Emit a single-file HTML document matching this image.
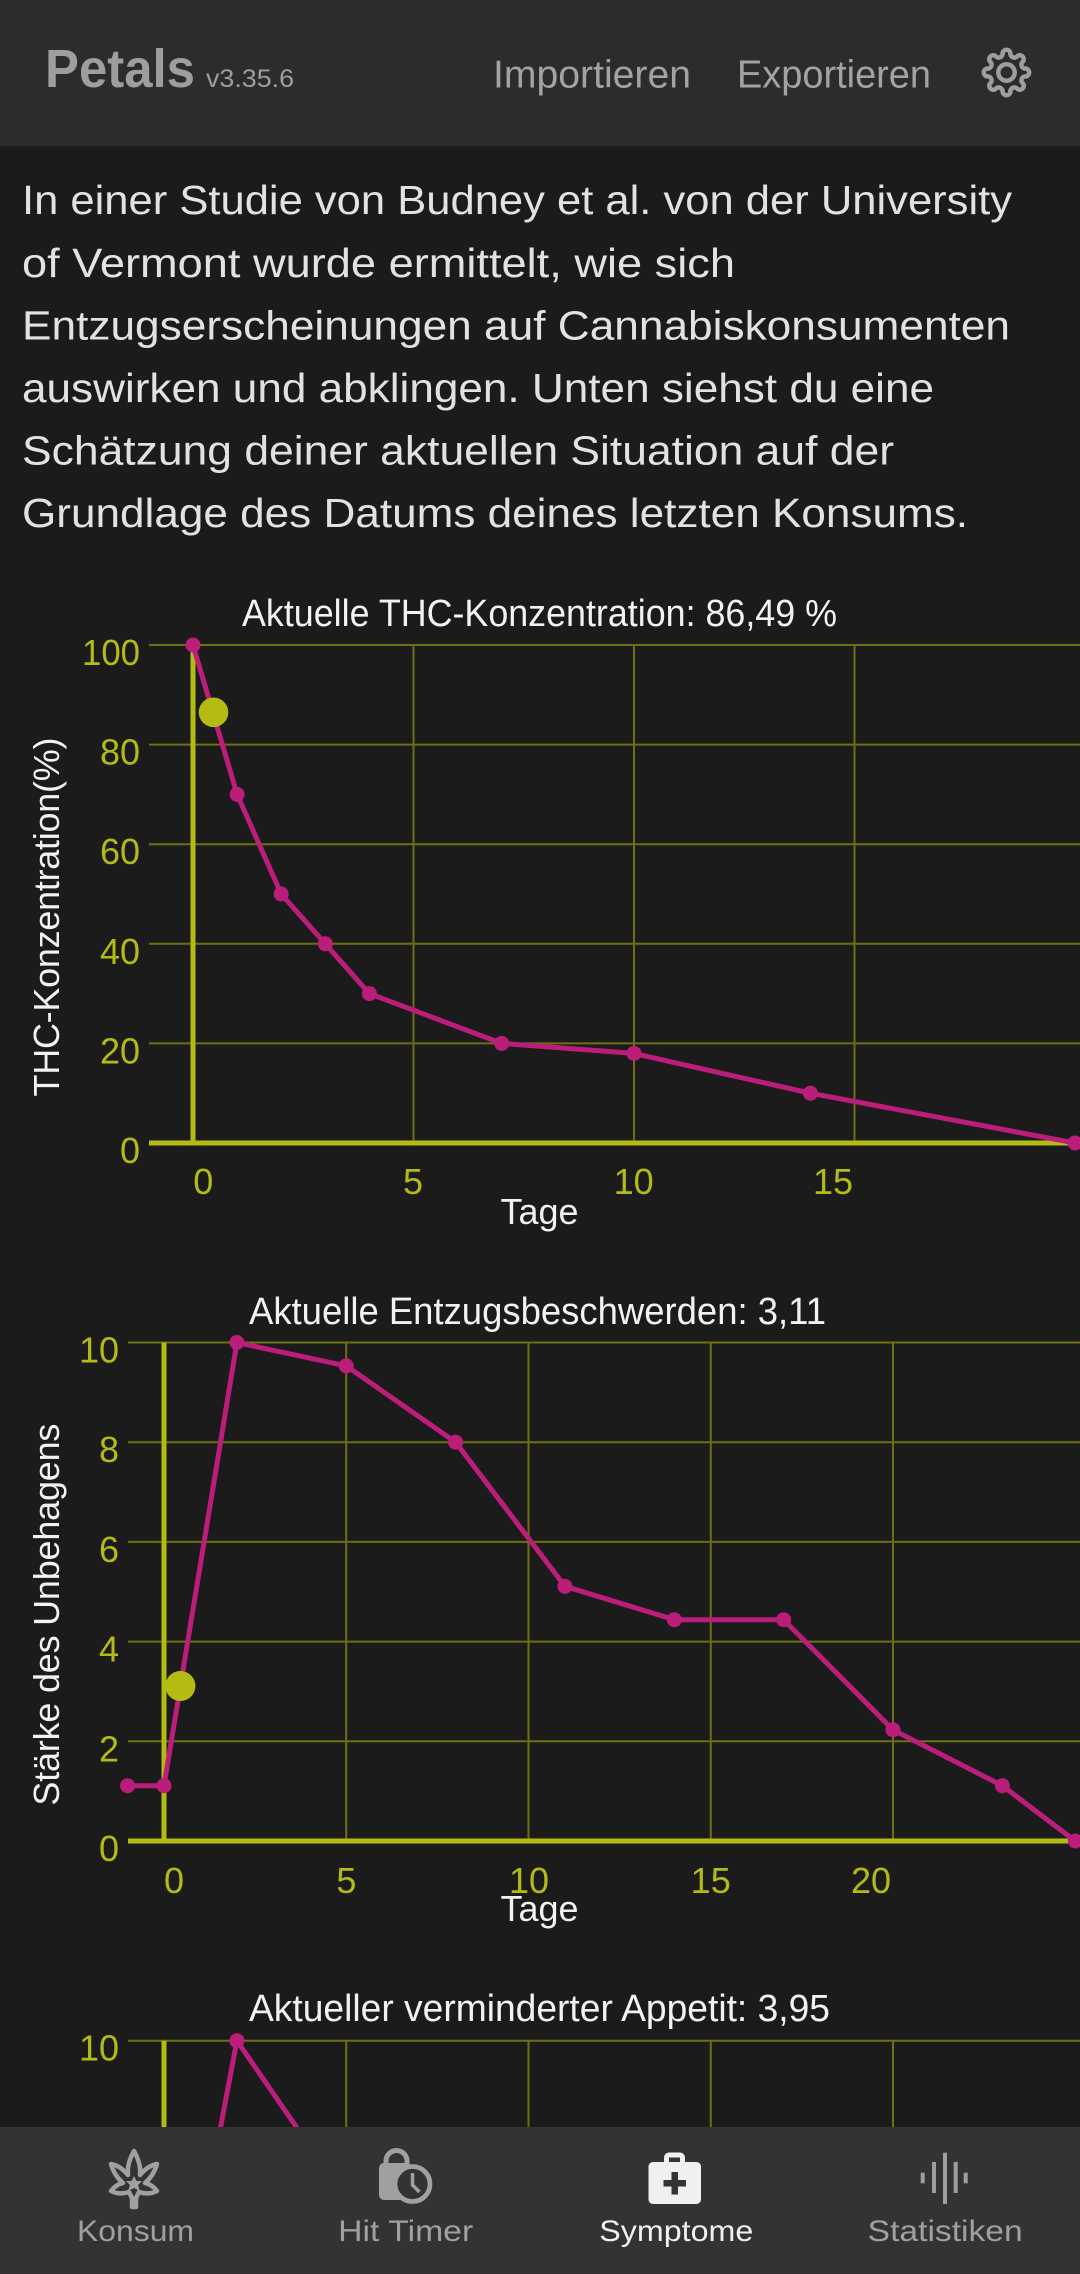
<!DOCTYPE html>
<html>
<head>
<meta charset="utf-8">
<style>
  html,body{margin:0;padding:0;background:#1b1b1b;width:1080px;height:2274px;overflow:hidden;}
  svg{display:block;}
  text{font-family:"Liberation Sans",Arial,sans-serif;}
</style>
</head>
<body>
<svg width="1080" height="2274" viewBox="0 0 1080 2274" xmlns="http://www.w3.org/2000/svg">
  <rect x="0" y="0" width="1080" height="2274" fill="#1b1b1b"/>

  <!-- Header -->
  <rect x="0" y="0" width="1080" height="146" fill="#2c2c2c"/>
  <text x="45" y="87" font-size="54" font-weight="bold" fill="#9e9e9e" textLength="150" lengthAdjust="spacingAndGlyphs">Petals</text>
  <text x="206" y="87" font-size="25" fill="#9e9e9e" textLength="88" lengthAdjust="spacingAndGlyphs">v3.35.6</text>
  <text x="493" y="87.5" font-size="39" fill="#a3a3a3" textLength="198" lengthAdjust="spacingAndGlyphs">Importieren</text>
  <text x="737" y="87.5" font-size="39" fill="#a3a3a3" textLength="194" lengthAdjust="spacingAndGlyphs">Exportieren</text>
  <!-- gear -->
  <g transform="translate(1006.5,72.5)" fill="none" stroke="#9e9e9e" stroke-width="4.5" stroke-linejoin="round">
    <path d="M19.62,-3.90 A4,4 0 0 1 19.62,3.90 A4,4 0 0 0 16.63,11.11 A4,4 0 0 1 11.11,16.63 A4,4 0 0 0 3.90,19.62 A4,4 0 0 1 -3.90,19.62 A4,4 0 0 0 -11.11,16.63 A4,4 0 0 1 -16.63,11.11 A4,4 0 0 0 -19.62,3.90 A4,4 0 0 1 -19.62,-3.90 A4,4 0 0 0 -16.63,-11.11 A4,4 0 0 1 -11.11,-16.63 A4,4 0 0 0 -3.90,-19.62 A4,4 0 0 1 3.90,-19.62 A4,4 0 0 0 11.11,-16.63 A4,4 0 0 1 16.63,-11.11 A4,4 0 0 0 19.62,-3.90 Z"/>
    <circle cx="0" cy="0" r="8.2"/>
  </g>

  <!-- Paragraph -->
  <g font-size="41" fill="#e2e2e2">
    <text x="22" y="214" textLength="990" lengthAdjust="spacingAndGlyphs">In einer Studie von Budney et al. von der University</text>
    <text x="22" y="277" textLength="713" lengthAdjust="spacingAndGlyphs">of Vermont wurde ermittelt, wie sich</text>
    <text x="22" y="339.5" textLength="988" lengthAdjust="spacingAndGlyphs">Entzugserscheinungen auf Cannabiskonsumenten</text>
    <text x="22" y="402" textLength="912" lengthAdjust="spacingAndGlyphs">auswirken und abklingen. Unten siehst du eine</text>
    <text x="22" y="464.5" textLength="872" lengthAdjust="spacingAndGlyphs">Schätzung deiner aktuellen Situation auf der</text>
    <text x="22" y="527" textLength="946" lengthAdjust="spacingAndGlyphs">Grundlage des Datums deines letzten Konsums.</text>
  </g>

  <!-- ===== Chart 1 ===== -->
  <text x="539.5" y="626" font-size="38" fill="#f2f2f2" text-anchor="middle" textLength="595" lengthAdjust="spacingAndGlyphs">Aktuelle THC-Konzentration: 86,49 %</text>
  <g stroke="#6e6f13" stroke-width="2">
    <line x1="149" y1="645" x2="1080" y2="645"/>
    <line x1="149" y1="744.6" x2="1080" y2="744.6"/>
    <line x1="149" y1="844.2" x2="1080" y2="844.2"/>
    <line x1="149" y1="943.8" x2="1080" y2="943.8"/>
    <line x1="149" y1="1043.4" x2="1080" y2="1043.4"/>
    <line x1="413.5" y1="645" x2="413.5" y2="1143"/>
    <line x1="634" y1="645" x2="634" y2="1143"/>
    <line x1="854.5" y1="645" x2="854.5" y2="1143"/>
  </g>
  <line x1="149" y1="1143" x2="1080" y2="1143" stroke="#b4bc14" stroke-width="5"/>
  <line x1="193" y1="645" x2="193" y2="1143" stroke="#b4bc14" stroke-width="5"/>
  <g font-size="36" fill="#b4bc14" text-anchor="end">
    <text x="140" y="665" textLength="58" lengthAdjust="spacingAndGlyphs">100</text>
    <text x="140" y="764.6">80</text>
    <text x="140" y="864.2">60</text>
    <text x="140" y="963.8">40</text>
    <text x="140" y="1063.4">20</text>
    <text x="140" y="1163">0</text>
  </g>
  <g font-size="36" fill="#b4bc14" text-anchor="middle">
    <text x="203.3" y="1194">0</text>
    <text x="413" y="1194">5</text>
    <text x="633.6" y="1194">10</text>
    <text x="833" y="1194">15</text>
  </g>
  <text x="539.5" y="1224" font-size="36" fill="#f2f2f2" text-anchor="middle" textLength="78" lengthAdjust="spacingAndGlyphs">Tage</text>
  <text x="59" y="917" font-size="36" fill="#f2f2f2" text-anchor="middle" textLength="359" transform="rotate(-90 59 917)">THC-Konzentration(%)</text>
  <polyline fill="none" stroke="#bb1e7a" stroke-width="5" stroke-linejoin="round" points="193,645 237.1,794.4 281.2,894 325.3,943.8 369.4,993.6 501.7,1043.4 634,1053.4 810.4,1093.2 1075,1143"/>
  <g fill="#bb1e7a">
    <circle cx="193" cy="645" r="7.5"/>
    <circle cx="237.1" cy="794.4" r="7.5"/>
    <circle cx="281.2" cy="894" r="7.5"/>
    <circle cx="325.3" cy="943.8" r="7.5"/>
    <circle cx="369.4" cy="993.6" r="7.5"/>
    <circle cx="501.7" cy="1043.4" r="7.5"/>
    <circle cx="634" cy="1053.4" r="7.5"/>
    <circle cx="810.4" cy="1093.2" r="7.5"/>
    <circle cx="1075" cy="1143" r="7.5"/>
  </g>
  <circle cx="213.5" cy="712.3" r="14.8" fill="#b4bc14"/>

  <!-- ===== Chart 2 ===== -->
  <text x="537.5" y="1324" font-size="38" fill="#f2f2f2" text-anchor="middle" textLength="577" lengthAdjust="spacingAndGlyphs">Aktuelle Entzugsbeschwerden: 3,11</text>
  <g stroke="#6e6f13" stroke-width="2">
    <line x1="128" y1="1342.5" x2="1080" y2="1342.5"/>
    <line x1="128" y1="1442.2" x2="1080" y2="1442.2"/>
    <line x1="128" y1="1541.9" x2="1080" y2="1541.9"/>
    <line x1="128" y1="1641.6" x2="1080" y2="1641.6"/>
    <line x1="128" y1="1741.3" x2="1080" y2="1741.3"/>
    <line x1="346.25" y1="1342.5" x2="346.25" y2="1841"/>
    <line x1="528.5" y1="1342.5" x2="528.5" y2="1841"/>
    <line x1="710.75" y1="1342.5" x2="710.75" y2="1841"/>
    <line x1="893" y1="1342.5" x2="893" y2="1841"/>
  </g>
  <line x1="128" y1="1841" x2="1080" y2="1841" stroke="#b4bc14" stroke-width="5"/>
  <line x1="164" y1="1342.5" x2="164" y2="1841" stroke="#b4bc14" stroke-width="5"/>
  <g font-size="36" fill="#b4bc14" text-anchor="end">
    <text x="119" y="1362.5">10</text>
    <text x="119" y="1462.2">8</text>
    <text x="119" y="1561.9">6</text>
    <text x="119" y="1661.6">4</text>
    <text x="119" y="1761.3">2</text>
    <text x="119" y="1861">0</text>
  </g>
  <g font-size="36" fill="#b4bc14" text-anchor="middle">
    <text x="174" y="1893">0</text>
    <text x="346.4" y="1893">5</text>
    <text x="529" y="1893">10</text>
    <text x="710.7" y="1893">15</text>
    <text x="871" y="1893">20</text>
  </g>
  <text x="539.5" y="1921" font-size="36" fill="#f2f2f2" text-anchor="middle" textLength="78" lengthAdjust="spacingAndGlyphs">Tage</text>
  <text x="59" y="1614.6" font-size="36" fill="#f2f2f2" text-anchor="middle" textLength="382" transform="rotate(-90 59 1614.6)">Stärke des Unbehagens</text>
  <polyline fill="none" stroke="#bb1e7a" stroke-width="5" stroke-linejoin="round" points="127.55,1785.7 164,1785.7 236.9,1342.5 346.25,1365.9 455.6,1442.2 564.95,1586.3 674.3,1619.7 783.65,1619.7 893,1729.8 1002.35,1785.7 1075.25,1841"/>
  <g fill="#bb1e7a">
    <circle cx="127.55" cy="1785.7" r="7.5"/>
    <circle cx="164" cy="1785.7" r="7.5"/>
    <circle cx="236.9" cy="1342.5" r="7.5"/>
    <circle cx="346.25" cy="1365.9" r="7.5"/>
    <circle cx="455.6" cy="1442.2" r="7.5"/>
    <circle cx="564.95" cy="1586.3" r="7.5"/>
    <circle cx="674.3" cy="1619.7" r="7.5"/>
    <circle cx="783.65" cy="1619.7" r="7.5"/>
    <circle cx="893" cy="1729.8" r="7.5"/>
    <circle cx="1002.35" cy="1785.7" r="7.5"/>
    <circle cx="1075.25" cy="1841" r="7.5"/>
  </g>
  <circle cx="180.4" cy="1686" r="15" fill="#b4bc14"/>

  <!-- ===== Chart 3 (partially visible) ===== -->
  <text x="539.5" y="2021" font-size="38" fill="#f2f2f2" text-anchor="middle" textLength="581" lengthAdjust="spacingAndGlyphs">Aktueller verminderter Appetit: 3,95</text>
  <g stroke="#6e6f13" stroke-width="2">
    <line x1="128" y1="2040.7" x2="1080" y2="2040.7"/>
    <line x1="346.25" y1="2040.7" x2="346.25" y2="2130"/>
    <line x1="528.5" y1="2040.7" x2="528.5" y2="2130"/>
    <line x1="710.75" y1="2040.7" x2="710.75" y2="2130"/>
    <line x1="893" y1="2040.7" x2="893" y2="2130"/>
  </g>
  <line x1="164" y1="2040.7" x2="164" y2="2130" stroke="#b4bc14" stroke-width="5"/>
  <text x="119" y="2060.5" font-size="36" fill="#b4bc14" text-anchor="end">10</text>
  <polyline fill="none" stroke="#bb1e7a" stroke-width="5" stroke-linejoin="round" points="205.5,2207 236.9,2040.7 291.6,2120 300,2132"/>
  <circle cx="236.9" cy="2040.7" r="7.5" fill="#bb1e7a"/>

  <!-- ===== Bottom nav ===== -->
  <rect x="0" y="2127" width="1080" height="147" fill="#333333"/>
  <!-- Konsum leaf -->
  <path d="M134,2151 C138,2158 141,2166 140,2175 C145,2169 151,2165 157,2164 C155,2171 151,2178 145,2183 C150,2184 154,2187 157,2191 C151,2194 145,2194 139,2192 L136,2198 L136,2207 L132,2207 L132,2198 L129,2192 C123,2194 117,2194 111,2191 C114,2187 118,2184 123,2183 C117,2178 113,2171 111,2164 C117,2165 123,2169 128,2175 C127,2166 130,2158 134,2151 Z" fill="none" stroke="#a0a0a0" stroke-width="4.5" stroke-linejoin="round"/>
  <path d="M134,2176 L136.5,2181 L142,2181 L138,2185 L140,2191 L134,2188 L128,2191 L130,2185 L126,2181 L131.5,2181 Z" fill="#a0a0a0"/>
  <!-- Hit timer icon -->
  <path d="M386,2167 L386,2161 A10.5,10.5 0 0 1 407,2161 L407,2167" fill="none" stroke="#a0a0a0" stroke-width="5"/>
  <rect x="379" y="2163" width="32" height="37" rx="5" fill="#a0a0a0"/>
  <circle cx="412.5" cy="2184" r="17.5" fill="#333333" stroke="#a0a0a0" stroke-width="4.8"/>
  <path d="M412.5,2173 L412.5,2185 L419.5,2192" fill="none" stroke="#a0a0a0" stroke-width="3.5"/>
  <!-- Medkit (active) -->
  <rect x="666.5" y="2155" width="16" height="10" rx="2.5" fill="none" stroke="#f0f0f0" stroke-width="5"/>
  <rect x="648.5" y="2162" width="52.5" height="42" rx="4.5" fill="#f0f0f0"/>
  <rect x="663.5" y="2180" width="22.5" height="6.5" fill="#333333"/>
  <rect x="671.5" y="2172" width="6.5" height="22.5" fill="#333333"/>
  <!-- Stats bars -->
  <g fill="#9e9e9e">
    <rect x="920.7" y="2172.7" width="4" height="10.6"/>
    <rect x="932" y="2162" width="4" height="31"/>
    <rect x="943" y="2152.7" width="4" height="51.3"/>
    <rect x="953.7" y="2162" width="4" height="31"/>
    <rect x="963.7" y="2172.7" width="4" height="10.6"/>
  </g>
  <g font-size="30" text-anchor="middle">
    <text x="135.5" y="2241" fill="#a0a0a0" textLength="117" lengthAdjust="spacingAndGlyphs">Konsum</text>
    <text x="405.7" y="2241" fill="#a0a0a0" textLength="135" lengthAdjust="spacingAndGlyphs">Hit Timer</text>
    <text x="676.3" y="2241" fill="#f0f0f0" textLength="154" lengthAdjust="spacingAndGlyphs">Symptome</text>
    <text x="945.2" y="2241" fill="#a0a0a0" textLength="155" lengthAdjust="spacingAndGlyphs">Statistiken</text>
  </g>
</svg>
</body>
</html>
